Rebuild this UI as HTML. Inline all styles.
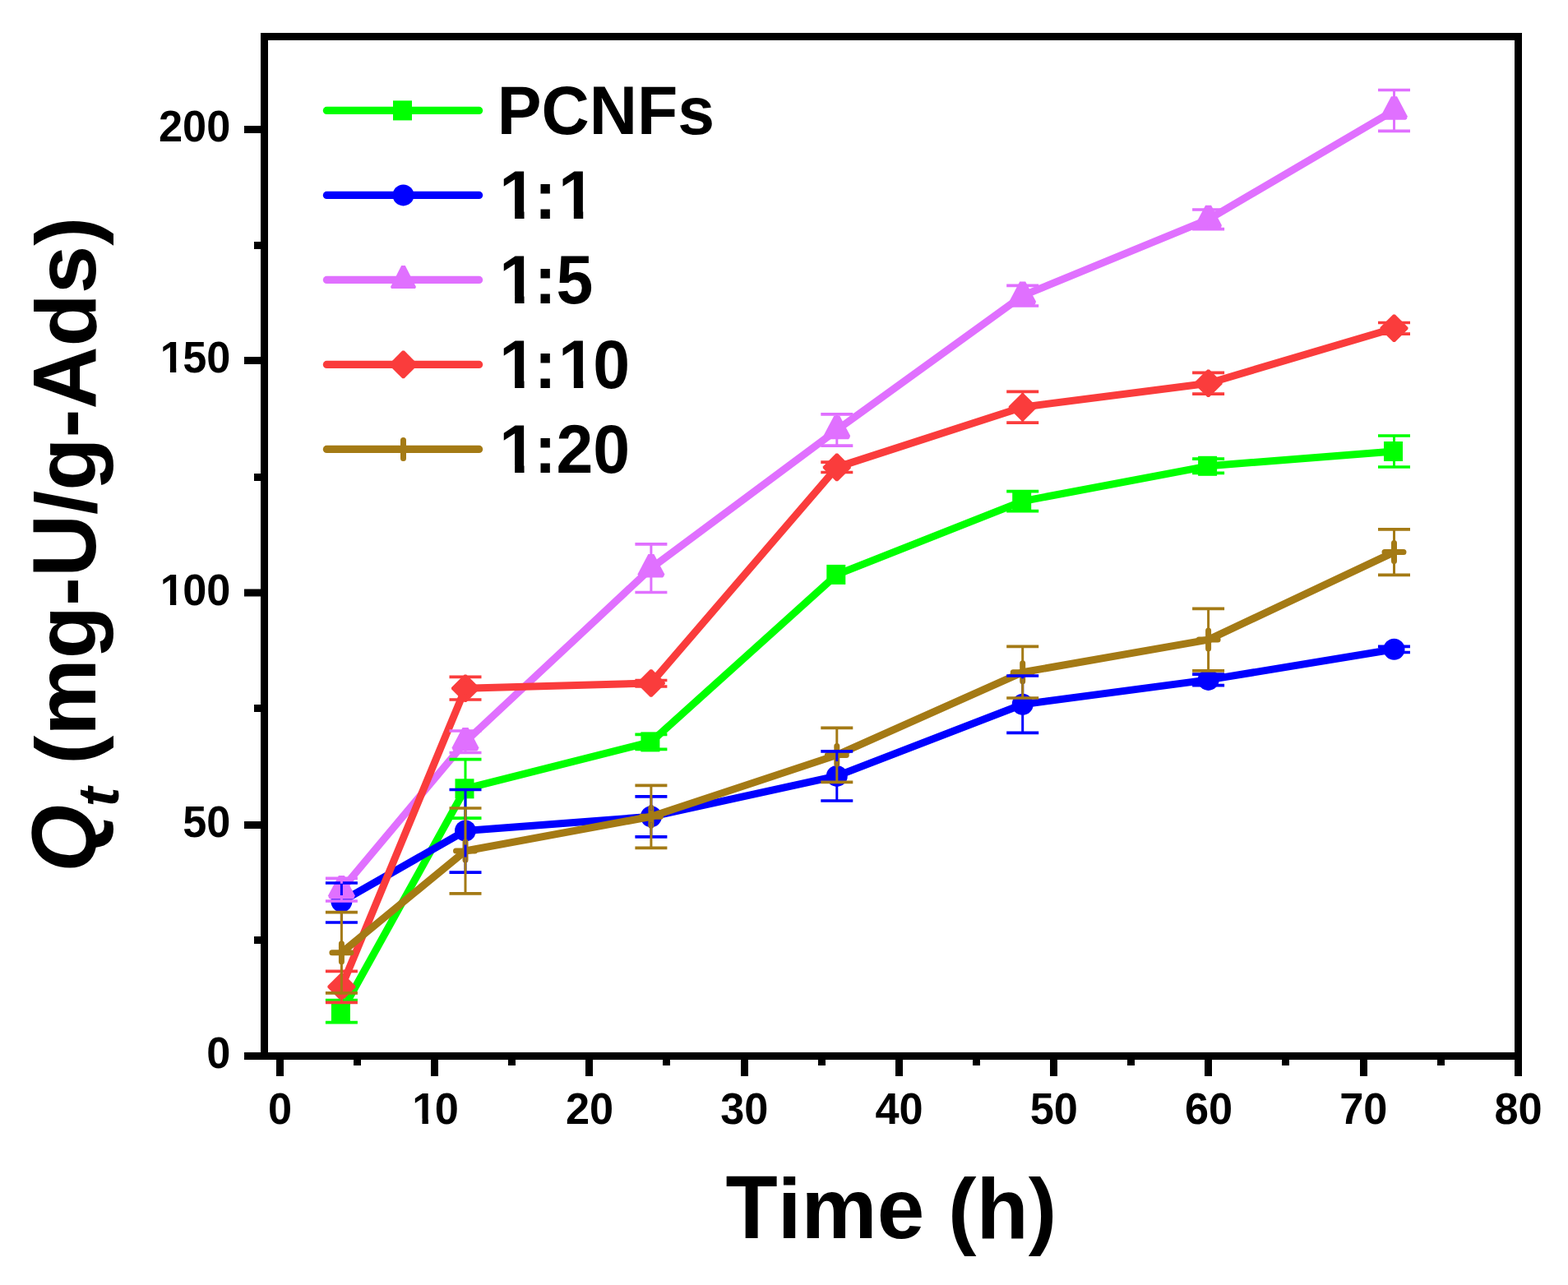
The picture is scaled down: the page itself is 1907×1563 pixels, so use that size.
<!DOCTYPE html>
<html><head><meta charset="utf-8"><title>Qt vs Time</title>
<style>
html,body{margin:0;padding:0;background:#fff;}
svg{display:block;}
text{font-family:"Liberation Sans",Arial,sans-serif;font-weight:bold;fill:#000;font-kerning:none;}
</style></head>
<body>
<svg width="1907" height="1563" viewBox="0 0 1907 1563">
<rect x="0" y="0" width="1907" height="1563" fill="#fff"/>
<g id="data">
<polyline points="415.4,1230.8 566,959.3 791.9,902.4 1017.8,698.9 1243.7,609.6 1469.6,566.8 1695.5,549" fill="none" stroke="#00ff00" stroke-width="9" stroke-linejoin="round" stroke-linecap="round"/>
<rect x="402.9" y="1218.8" width="23" height="24" fill="#00ff00"/>
<rect x="553.5" y="947.3" width="23" height="24" fill="#00ff00"/>
<rect x="779.4" y="890.4" width="23" height="24" fill="#00ff00"/>
<rect x="1005.3" y="686.9" width="23" height="24" fill="#00ff00"/>
<rect x="1231.2" y="597.6" width="23" height="24" fill="#00ff00"/>
<rect x="1457.1" y="554.8" width="23" height="24" fill="#00ff00"/>
<rect x="1683" y="537" width="23" height="24" fill="#00ff00"/>
<polyline points="415.4,1096.5 566,1010.5 791.9,993.3 1017.8,943.9 1243.7,856.7 1469.6,826.9 1695.5,789.8" fill="none" stroke="#0000ff" stroke-width="9" stroke-linejoin="round" stroke-linecap="round"/>
<circle cx="415.4" cy="1096.5" r="13" fill="#0000ff"/>
<circle cx="566" cy="1010.5" r="13" fill="#0000ff"/>
<circle cx="791.9" cy="993.3" r="13" fill="#0000ff"/>
<circle cx="1017.8" cy="943.9" r="13" fill="#0000ff"/>
<circle cx="1243.7" cy="856.7" r="13" fill="#0000ff"/>
<circle cx="1469.6" cy="826.9" r="13" fill="#0000ff"/>
<circle cx="1695.5" cy="789.8" r="13" fill="#0000ff"/>
<polyline points="415.4,1082.2 566,902.3 791.9,691.2 1017.8,523 1243.7,359.7 1469.6,266.9 1695.5,134.45" fill="none" stroke="#e070ff" stroke-width="9" stroke-linejoin="round" stroke-linecap="round"/>
<polygon points="411.9,1065 418.9,1065 431.7,1089.2 430.9,1092 429.4,1093.4 401.4,1093.4 399.9,1092 399.1,1089.2" fill="#e070ff"/>
<polygon points="562.5,885.1 569.5,885.1 582.3,909.3 581.5,912.1 580,913.5 552,913.5 550.5,912.1 549.7,909.3" fill="#e070ff"/>
<polygon points="788.4,674 795.4,674 808.2,698.2 807.4,701 805.9,702.4 777.9,702.4 776.4,701 775.6,698.2" fill="#e070ff"/>
<polygon points="1014.3,505.8 1021.3,505.8 1034.1,530 1033.3,532.8 1031.8,534.2 1003.8,534.2 1002.3,532.8 1001.5,530" fill="#e070ff"/>
<polygon points="1240.2,342.5 1247.2,342.5 1260,366.7 1259.2,369.5 1257.7,370.9 1229.7,370.9 1228.2,369.5 1227.4,366.7" fill="#e070ff"/>
<polygon points="1466.1,249.7 1473.1,249.7 1485.9,273.9 1485.1,276.7 1483.6,278.1 1455.6,278.1 1454.1,276.7 1453.3,273.9" fill="#e070ff"/>
<polygon points="1692,117.25 1699,117.25 1711.8,141.45 1711,144.25 1709.5,145.65 1681.5,145.65 1680,144.25 1679.2,141.45" fill="#e070ff"/>
<polyline points="415.4,1200.3 566,837.2 791.9,831 1017.8,568.4 1243.7,495.2 1469.6,466.2 1695.5,399.2" fill="none" stroke="#fa3c3c" stroke-width="9" stroke-linejoin="round" stroke-linecap="round"/>
<polygon points="414.2,1183.5 416.6,1183.5 432.4,1199.3 432.4,1201.3 416.6,1217.1 414.2,1217.1 398.4,1201.3 398.4,1199.3" fill="#fa3c3c"/>
<polygon points="564.8,820.4 567.2,820.4 583,836.2 583,838.2 567.2,854 564.8,854 549,838.2 549,836.2" fill="#fa3c3c"/>
<polygon points="790.7,814.2 793.1,814.2 808.9,830 808.9,832 793.1,847.8 790.7,847.8 774.9,832 774.9,830" fill="#fa3c3c"/>
<polygon points="1016.6,551.6 1019,551.6 1034.8,567.4 1034.8,569.4 1019,585.2 1016.6,585.2 1000.8,569.4 1000.8,567.4" fill="#fa3c3c"/>
<polygon points="1242.5,478.4 1244.9,478.4 1260.7,494.2 1260.7,496.2 1244.9,512 1242.5,512 1226.7,496.2 1226.7,494.2" fill="#fa3c3c"/>
<polygon points="1468.4,449.4 1470.8,449.4 1486.6,465.2 1486.6,467.2 1470.8,483 1468.4,483 1452.6,467.2 1452.6,465.2" fill="#fa3c3c"/>
<polygon points="1694.3,382.4 1696.7,382.4 1712.5,398.2 1712.5,400.2 1696.7,416 1694.3,416 1678.5,400.2 1678.5,398.2" fill="#fa3c3c"/>
<polyline points="415.4,1158.8 566,1035 791.9,993.3 1017.8,918.4 1243.7,817.7 1469.6,778.1 1695.5,671.6" fill="none" stroke="#a47a15" stroke-width="9" stroke-linejoin="round" stroke-linecap="round"/>
<path d="M403.9 1158.8H426.9M415.4 1147.8V1169.8" stroke="#a47a15" stroke-width="7" stroke-linecap="round" fill="none"/>
<path d="M554.5 1035H577.5M566 1024V1046" stroke="#a47a15" stroke-width="7" stroke-linecap="round" fill="none"/>
<path d="M780.4 993.3H803.4M791.9 982.3V1004.3" stroke="#a47a15" stroke-width="7" stroke-linecap="round" fill="none"/>
<path d="M1006.3 918.4H1029.3M1017.8 907.4V929.4" stroke="#a47a15" stroke-width="7" stroke-linecap="round" fill="none"/>
<path d="M1232.2 817.7H1255.2M1243.7 806.7V828.7" stroke="#a47a15" stroke-width="7" stroke-linecap="round" fill="none"/>
<path d="M1458.1 778.1H1481.1M1469.6 767.1V789.1" stroke="#a47a15" stroke-width="7" stroke-linecap="round" fill="none"/>
<path d="M1684 671.6H1707M1695.5 660.6V682.6" stroke="#a47a15" stroke-width="7" stroke-linecap="round" fill="none"/>
</g>
<g id="err">
<path d="M415.4 1216.7V1223.3M415.4 1238.3V1243.6M566 923.7V951.8M566 966.8V995.2M791.9 893.4V894.9M791.9 909.9V911.3M1243.7 597.6V602.1M1243.7 617.1V621.6M1469.6 558.2V559.3M1469.6 574.3V575.4M1695.5 530V541.5M1695.5 556.5V568" stroke="#00ff00" stroke-width="3" fill="none"/>
<path d="M395.9 1216.7H434.9M395.9 1243.6H434.9M546.5 923.7H585.5M546.5 995.2H585.5M772.4 893.4H811.4M772.4 911.3H811.4M1224.2 597.6H1263.2M1224.2 621.6H1263.2M1450.1 558.2H1489.1M1450.1 575.4H1489.1M1676 530H1715M1676 568H1715" stroke="#00ff00" stroke-width="3.7" fill="none"/>
<path d="M415.4 1074V1089M415.4 1104V1122M566 960.5V1003M566 1018V1061.2M791.9 968.9V985.8M791.9 1000.8V1017.8M1017.8 913.9V936.4M1017.8 951.4V974M1243.7 822V849.2M1243.7 864.2V891.4" stroke="#0000ff" stroke-width="3" fill="none"/>
<path d="M395.9 1074H434.9M395.9 1122H434.9M546.5 960.5H585.5M546.5 1061.2H585.5M772.4 968.9H811.4M772.4 1017.8H811.4M998.3 913.9H1037.3M998.3 974H1037.3M1224.2 822H1263.2M1224.2 891.4H1263.2M1450.1 820.2H1489.1M1450.1 833.6H1489.1M1676 786.3H1715M1676 793.5H1715" stroke="#0000ff" stroke-width="3.7" fill="none"/>
<path d="M415.4 1068.4V1074.7M415.4 1089.7V1096M566 889V894.8M566 909.8V915.5M791.9 661.9V683.7M791.9 698.7V720.5M1017.8 503.8V515.5M1017.8 530.5V542.2M1243.7 347.4V352.2M1243.7 367.2V372M1469.6 255V259.4M1469.6 274.4V278.7M1695.5 109.5V126.95M1695.5 141.95V159.4" stroke="#e070ff" stroke-width="3" fill="none"/>
<path d="M395.9 1068.4H434.9M395.9 1096H434.9M546.5 889H585.5M546.5 915.5H585.5M772.4 661.9H811.4M772.4 720.5H811.4M998.3 503.8H1037.3M998.3 542.2H1037.3M1224.2 347.4H1263.2M1224.2 372H1263.2M1450.1 255H1489.1M1450.1 278.7H1489.1M1676 109.5H1715M1676 159.4H1715" stroke="#e070ff" stroke-width="3.7" fill="none"/>
<path d="M415.4 1181.4V1192.8M415.4 1207.8V1219.4M566 823.4V829.7M566 844.7V851M1243.7 476.3V487.7M1243.7 502.7V514.1M1469.6 453.3V458.7M1469.6 473.7V479.1" stroke="#fa3c3c" stroke-width="3" fill="none"/>
<path d="M395.9 1181.4H434.9M395.9 1219.4H434.9M546.5 823.4H585.5M546.5 851H585.5M772.4 827.5H811.4M772.4 835H811.4M998.3 562.2H1037.3M998.3 574.5H1037.3M1224.2 476.3H1263.2M1224.2 514.1H1263.2M1450.1 453.3H1489.1M1450.1 479.1H1489.1M1676 392.5H1715M1676 406.1H1715" stroke="#fa3c3c" stroke-width="3.7" fill="none"/>
<path d="M415.4 1109.7V1151.3M415.4 1166.3V1207.9M566 983V1027.5M566 1042.5V1086.8M791.9 955.3V985.8M791.9 1000.8V1031.4M1017.8 885.4V910.9M1017.8 925.9V951.4M1243.7 786.4V810.2M1243.7 825.2V849M1469.6 740.4V770.6M1469.6 785.6V815.8M1695.5 643.8V664.1M1695.5 679.1V699.4" stroke="#a47a15" stroke-width="3" fill="none"/>
<path d="M395.9 1109.7H434.9M395.9 1207.9H434.9M546.5 983H585.5M546.5 1086.8H585.5M772.4 955.3H811.4M772.4 1031.4H811.4M998.3 885.4H1037.3M998.3 951.4H1037.3M1224.2 786.4H1263.2M1224.2 849H1263.2M1450.1 740.4H1489.1M1450.1 815.8H1489.1M1676 643.8H1715M1676 699.4H1715" stroke="#a47a15" stroke-width="3.7" fill="none"/>
</g>
<g id="axes" fill="#000">
<rect x="321.5" y="44.5" width="1525" height="1240" fill="none" stroke="#000" stroke-width="9"/>
<rect x="297" y="1280" width="20" height="9"/>
<rect x="309" y="1139" width="8" height="9"/>
<rect x="297" y="999" width="20" height="9"/>
<rect x="309" y="857" width="8" height="9"/>
<rect x="297" y="716.5" width="20" height="9"/>
<rect x="309" y="576" width="8" height="9"/>
<rect x="297" y="434" width="20" height="9"/>
<rect x="309" y="294" width="8" height="9"/>
<rect x="297" y="153" width="20" height="9"/>
<rect x="336" y="1289" width="9" height="20"/>
<rect x="430" y="1289" width="9" height="7"/>
<rect x="524" y="1289" width="9" height="20"/>
<rect x="618" y="1289" width="9" height="7"/>
<rect x="712" y="1289" width="9" height="20"/>
<rect x="806" y="1289" width="9" height="7"/>
<rect x="901" y="1289" width="9" height="20"/>
<rect x="995" y="1289" width="9" height="7"/>
<rect x="1089" y="1289" width="9" height="20"/>
<rect x="1183" y="1289" width="9" height="7"/>
<rect x="1277" y="1289" width="9" height="20"/>
<rect x="1371" y="1289" width="9" height="7"/>
<rect x="1465" y="1289" width="9" height="20"/>
<rect x="1559" y="1289" width="9" height="7"/>
<rect x="1654" y="1289" width="9" height="20"/>
<rect x="1748" y="1289" width="9" height="7"/>
<rect x="1842" y="1289" width="9" height="20"/>
</g>
<g id="labels">
<text transform="translate(251.21 1299.1) scale(1 1.04)" font-size="52.3">0</text>
<text transform="translate(222.13 1018.1) scale(1 1.04)" font-size="52.3">50</text>
<text transform="translate(194.7 735.6) scale(1 1.04)" font-size="52.3" clip-path="url(#c1_52_3)">1</text>
<text transform="translate(222.13 735.6) scale(1 1.04)" font-size="52.3">00</text>
<text transform="translate(194.7 453.1) scale(1 1.04)" font-size="52.3" clip-path="url(#c1_52_3)">1</text>
<text transform="translate(222.13 453.1) scale(1 1.04)" font-size="52.3">50</text>
<text transform="translate(193.04 172.1) scale(1 1.04)" font-size="52.3">200</text>
<text transform="translate(325.96 1366.8) scale(1 1.04)" font-size="52.3">0</text>
<text transform="translate(501.32 1366.8) scale(1 1.04)" font-size="52.3" clip-path="url(#c1_52_3)">1</text>
<text transform="translate(528.75 1366.8) scale(1 1.04)" font-size="52.3">0</text>
<text transform="translate(687.91 1366.8) scale(1 1.04)" font-size="52.3">20</text>
<text transform="translate(876.16 1366.8) scale(1 1.04)" font-size="52.3">30</text>
<text transform="translate(1064.41 1366.8) scale(1 1.04)" font-size="52.3">40</text>
<text transform="translate(1252.66 1366.8) scale(1 1.04)" font-size="52.3">50</text>
<text transform="translate(1440.91 1366.8) scale(1 1.04)" font-size="52.3">60</text>
<text transform="translate(1629.16 1366.8) scale(1 1.04)" font-size="52.3">70</text>
<text transform="translate(1817.41 1366.8) scale(1 1.04)" font-size="52.3">80</text>
</g>
<text transform="translate(882.6 1506) scale(1 1.05)" font-size="103.53">T</text>
<text transform="translate(945.84 1506) scale(1 1.01)" font-size="103.53">ime (h)</text>
<g transform="translate(116.1 0) rotate(-90)">
<text transform="translate(-1060.84 0) scale(1 1.05)" font-size="105.2" font-style="italic">Q</text>
<text transform="translate(-981.18 28) scale(1 1)" font-size="71" font-style="italic">t</text>
<text transform="translate(-929.74 0) scale(1 0.98)" font-size="105.2">(mg-</text>
<text transform="translate(-701.87 0) scale(1 1.04)" font-size="105.2">U</text>
<text transform="translate(-625.9 0) scale(1 0.98)" font-size="105.2">/g-</text>
<text transform="translate(-497.38 0) scale(1 1.04)" font-size="105.2">A</text>
<text transform="translate(-421.41 0) scale(1 0.98)" font-size="105.2">ds)</text>
</g>
<g id="legend">
<line x1="397.4" y1="134.4" x2="582.6" y2="134.4" stroke="#00ff00" stroke-width="9.2" stroke-linecap="round"/>
<rect x="478" y="122.4" width="23" height="24" fill="#00ff00"/>
<text transform="translate(604.8 162.9) scale(1 1.04)" font-size="80.64">PCNF</text>
<text transform="translate(824.32 162.9) scale(1 1)" font-size="80.64">s</text>
<line x1="397.4" y1="237.4" x2="582.6" y2="237.4" stroke="#0000ff" stroke-width="9.2" stroke-linecap="round"/>
<circle cx="490.5" cy="237.4" r="13" fill="#0000ff"/>
<text transform="translate(607.36 265.9) scale(1 1.04)" font-size="80.64" clip-path="url(#c1_80_64)">1</text>
<text transform="translate(649.65 265.9) scale(1 1.04)" font-size="80.64">:</text>
<text transform="translate(679.06 265.9) scale(1 1.04)" font-size="80.64" clip-path="url(#c1_80_64)">1</text>
<line x1="397.4" y1="340.4" x2="582.6" y2="340.4" stroke="#e070ff" stroke-width="9.2" stroke-linecap="round"/>
<polygon points="488.2,322.9 492.8,322.9 506,348.9 505,350.9 476,350.9 475,348.9" fill="#e070ff"/>
<text transform="translate(607.36 368.9) scale(1 1.04)" font-size="80.64" clip-path="url(#c1_80_64)">1</text>
<text transform="translate(649.65 368.9) scale(1 1.04)" font-size="80.64">:5</text>
<line x1="397.4" y1="443.4" x2="582.6" y2="443.4" stroke="#fa3c3c" stroke-width="9.2" stroke-linecap="round"/>
<polygon points="489.3,426.6 491.7,426.6 507.5,442.4 507.5,444.4 491.7,460.2 489.3,460.2 473.5,444.4 473.5,442.4" fill="#fa3c3c"/>
<text transform="translate(607.36 471.9) scale(1 1.04)" font-size="80.64" clip-path="url(#c1_80_64)">1</text>
<text transform="translate(649.65 471.9) scale(1 1.04)" font-size="80.64">:</text>
<text transform="translate(679.06 471.9) scale(1 1.04)" font-size="80.64" clip-path="url(#c1_80_64)">1</text>
<text transform="translate(721.35 471.9) scale(1 1.04)" font-size="80.64">0</text>
<line x1="397.4" y1="546.4" x2="582.6" y2="546.4" stroke="#a47a15" stroke-width="9.2" stroke-linecap="round"/>
<path d="M479 546.4H502M490.5 535.4V557.4" stroke="#a47a15" stroke-width="7" stroke-linecap="round" fill="none"/>
<text transform="translate(607.36 574.9) scale(1 1.04)" font-size="80.64" clip-path="url(#c1_80_64)">1</text>
<text transform="translate(649.65 574.9) scale(1 1.04)" font-size="80.64">:20</text>
</g>
<defs><clipPath id="c1_52_3" clipPathUnits="userSpaceOnUse"><rect x="-52.3" y="-104.6" width="156.9" height="98.74"/><rect x="12.18" y="-6.36" width="7.38" height="21.05"/></clipPath><clipPath id="c1_80_64" clipPathUnits="userSpaceOnUse"><rect x="-80.64" y="-161.28" width="241.92" height="152.51"/><rect x="18.78" y="-9.27" width="11.38" height="32.46"/></clipPath></defs>
</svg>
</body></html>
